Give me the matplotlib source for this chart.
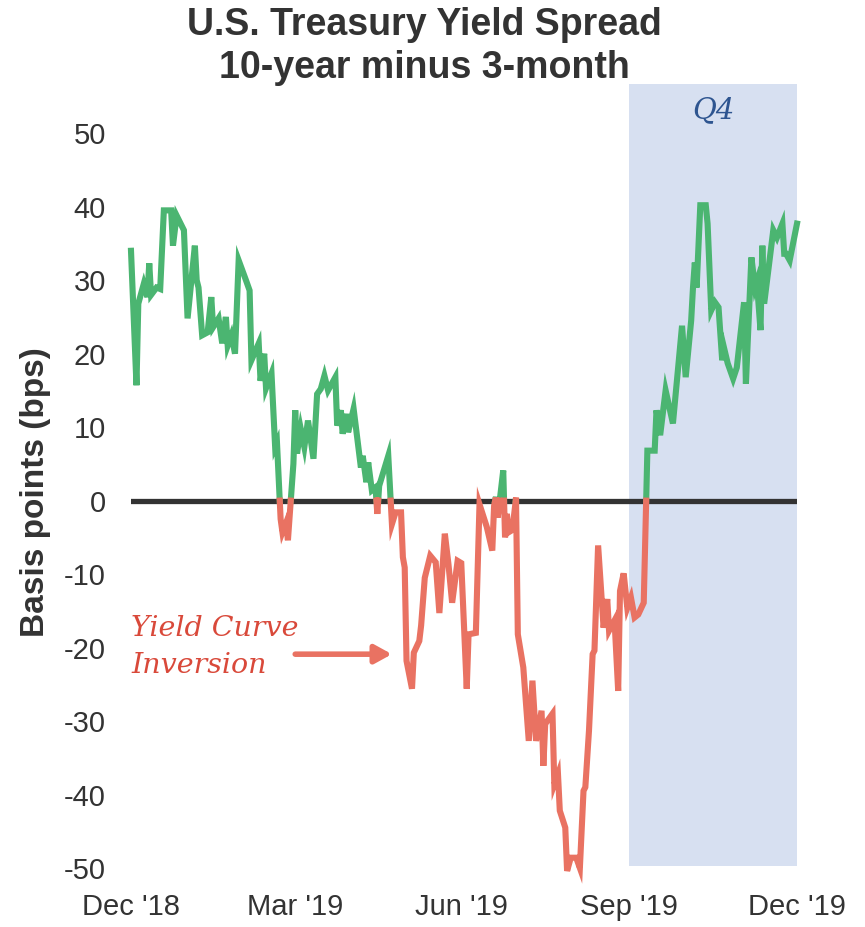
import numpy as np
import pandas as pd
import matplotlib
matplotlib.use("Agg")
import matplotlib.pyplot as plt
import matplotlib.dates as mdates

# 10-year minus 3-month Treasury spread, basis points
dates = [
    "2018-12-31", "2019-01-03", "2019-01-04", "2019-01-07", "2019-01-09", "2019-01-10",
    "2019-01-11", "2019-01-14", "2019-01-16", "2019-01-18", "2019-01-22", "2019-01-23",
    "2019-01-25", "2019-01-29", "2019-01-31", "2019-02-04", "2019-02-05", "2019-02-06",
    "2019-02-08", "2019-02-11", "2019-02-13", "2019-02-14", "2019-02-17", "2019-02-19",
    "2019-02-21", "2019-02-22", "2019-02-24", "2019-02-26", "2019-02-28", "2019-03-04",
    "2019-03-06", "2019-03-07", "2019-03-11", "2019-03-12", "2019-03-14", "2019-03-15",
    "2019-03-18", "2019-03-20", "2019-03-21", "2019-03-23", "2019-03-24", "2019-03-26",
    "2019-03-27", "2019-03-30", "2019-03-31", "2019-04-01", "2019-04-03", "2019-04-05",
    "2019-04-07", "2019-04-10", "2019-04-12", "2019-04-14", "2019-04-16", "2019-04-18",
    "2019-04-20", "2019-04-22", "2019-04-23", "2019-04-25", "2019-04-26", "2019-04-28",
    "2019-04-29", "2019-05-02", "2019-05-06", "2019-05-07", "2019-05-09", "2019-05-10",
    "2019-05-12", "2019-05-14", "2019-05-15", "2019-05-16", "2019-05-21", "2019-05-23",
    "2019-05-25", "2019-05-28", "2019-05-29", "2019-05-30", "2019-05-31", "2019-06-03",
    "2019-06-04", "2019-06-07", "2019-06-08", "2019-06-10", "2019-06-13", "2019-06-16",
    "2019-06-18", "2019-06-21", "2019-06-23", "2019-06-25", "2019-06-28", "2019-06-30",
    "2019-07-03", "2019-07-04", "2019-07-08", "2019-07-10", "2019-07-14", "2019-07-17",
    "2019-07-18", "2019-07-19", "2019-07-20", "2019-07-23", "2019-07-24", "2019-07-25",
    "2019-07-26", "2019-07-28", "2019-07-30", "2019-07-31", "2019-08-03", "2019-08-06",
    "2019-08-08", "2019-08-10", "2019-08-13", "2019-08-14", "2019-08-15", "2019-08-19",
    "2019-08-20", "2019-08-22", "2019-08-23", "2019-08-26", "2019-08-27", "2019-08-29",
    "2019-09-01", "2019-09-03", "2019-09-05", "2019-09-06", "2019-09-08", "2019-09-10",
    "2019-09-11", "2019-09-13", "2019-09-16", "2019-09-18", "2019-09-19", "2019-09-22",
    "2019-09-24", "2019-09-25", "2019-09-27", "2019-09-29", "2019-10-01", "2019-10-03",
    "2019-10-05", "2019-10-08", "2019-10-10", "2019-10-14", "2019-10-15", "2019-10-17",
    "2019-10-20", "2019-10-24", "2019-10-29", "2019-10-31", "2019-11-03", "2019-11-04",
    "2019-11-05", "2019-11-06", "2019-11-08", "2019-11-11", "2019-11-12", "2019-11-14",
    "2019-11-16", "2019-11-18", "2019-11-20", "2019-11-21", "2019-11-23", "2019-11-26",
    "2019-11-28", "2019-12-02", "2019-12-03", "2019-12-06", "2019-12-08", "2019-12-09",
    "2019-12-11", "2019-12-12", "2019-12-13", "2019-12-18", "2019-12-20", "2019-12-23",
    "2019-12-24", "2019-12-25", "2019-12-27", "2019-12-31",
]
spread = [
    34.0, 15.7, 26.8, 29.5, 27.7, 32.3,
    28.0, 29.0, 28.8, 39.5, 39.5, 34.7,
    38.8, 36.8, 24.8, 34.7, 30.0, 29.0,
    22.5, 22.9, 27.7, 23.6, 24.8, 21.4,
    25.0, 21.1, 22.5, 20.0, 32.7, 30.0,
    28.6, 19.1, 21.4, 16.3, 20.0, 15.3,
    17.3, 7.3, 7.9, -2.5, -4.3, -3.0,
    -5.4, 5.0, 12.3, 6.4, 9.8, 7.3,
    10.9, 5.7, 14.5, 15.2, 17.0, 15.0,
    15.9, 16.8, 10.2, 12.3, 9.1, 11.8,
    9.3, 12.5, 4.5, 6.1, 2.5, 5.2,
    1.4, 1.8, -1.8, 2.0, 6.1, -3.2,
    -1.6, -1.6, -7.7, -9.1, -21.8, -25.6,
    -20.7, -19.1, -17.0, -10.5, -7.5, -8.4,
    -15.3, -4.5, -8.7, -13.9, -8.2, -8.5,
    -25.6, -18.2, -18.0, -0.5, -3.6, -6.8,
    -0.7, 0.5, -2.3, 4.1, -5.0, -1.8,
    -4.3, -4.0, 0.3, -18.2, -22.7, -32.7,
    -24.5, -32.7, -28.6, -36.1, -30.4, -29.0,
    -38.6, -37.2, -42.2, -44.5, -50.4, -48.6,
    -48.6, -50.0, -39.5, -39.0, -31.3, -20.9,
    -20.4, -6.1, -17.3, -13.4, -17.7, -16.3,
    -25.9, -12.3, -9.9, -14.6, -13.2, -15.9,
    -15.5, -13.9, 6.8, 6.8, 12.3, 8.9,
    15.0, 10.5, 23.8, 16.8, 24.5, 29.0,
    32.4, 29.0, 40.2, 40.2, 37.7, 25.9,
    27.0, 26.3, 19.1, 20.8, 18.7, 16.6,
    18.1, 27.0, 15.9, 33.1, 29.0, 29.8,
    23.2, 34.7, 26.8, 36.8, 35.8, 37.7,
    33.6, 33.6, 32.7, 37.7,
]

tick_dates = ["2018-12-31", "2019-03-31", "2019-06-30", "2019-09-30", "2019-12-31"]
tick_labels = ["Dec '18", "Mar '19", "Jun '19", "Sep '19", "Dec '19"]
y_ticks = [50, 40, 30, 20, 10, 0, -10, -20, -30, -40, -50]
q4_span = ("2019-09-30", "2019-12-31")

GREEN = "#4BB571"
RED = "#E97262"
SHADE = "#D7E0F1"
TEXT = "#333333"

x = mdates.date2num(pd.to_datetime(dates))
y = np.asarray(spread, dtype=float)

# insert zero-crossing points so the two colours meet at the axis
xs, ys = [x[0]], [y[0]]
for i in range(1, len(x)):
    if y[i - 1] * y[i] < 0:
        t = y[i - 1] / (y[i - 1] - y[i])
        xs.append(x[i - 1] + t * (x[i] - x[i - 1]))
        ys.append(0.0)
    xs.append(x[i])
    ys.append(y[i])
xs = np.array(xs)
ys = np.array(ys)
pos = np.ma.masked_where(ys < 0, ys)
neg = np.ma.masked_where(ys > 0, ys)

plt.rcParams["font.family"] = ["Liberation Sans", "DejaVu Sans"]
fig = plt.figure(figsize=(8.65, 9.27), dpi=100)
ax = fig.add_axes([131 / 865, 1 - 868 / 927, (797 - 131) / 865, (868 - 84) / 927])

q0, q1 = mdates.date2num(pd.to_datetime(list(q4_span)))
ax.axvspan(q0, q1, ymin=0.003, ymax=1.0, color=SHADE, lw=0, zorder=0)

ax.axhline(0, color=TEXT, lw=3.8, zorder=2)
ax.plot(xs, pos, color=GREEN, lw=4.4, solid_joinstyle="miter", zorder=3, clip_on=False)
ax.plot(xs, neg, color=RED, lw=4.4, solid_joinstyle="miter", zorder=3, clip_on=False)

ax.set_xlim(x[0], x[-1])
ax.set_ylim(-50, 56.7)
ax.set_yticks(y_ticks)
ax.set_yticklabels([str(v) for v in y_ticks])
ax.set_xticks(mdates.date2num(pd.to_datetime(tick_dates)))
ax.set_xticklabels(tick_labels)
ax.tick_params(axis="both", length=0, labelsize=21, labelcolor=TEXT)
ax.tick_params(axis="y", pad=18)
ax.tick_params(axis="x", pad=18)
for s in ax.spines.values():
    s.set_visible(False)
ax.set_ylabel("Basis points (bps)", fontsize=24, fontweight="bold", color=TEXT)
ax.yaxis.set_label_coords(-0.12, 0.48)

fig.text(424 / 865, 1 - 25 / 927, "U.S. Treasury Yield Spread", ha="center", va="center",
         fontsize=27, fontweight="bold", color=TEXT)
fig.text(424 / 865, 1 - 68 / 927, "10-year minus 3-month", ha="center", va="center",
         fontsize=27, fontweight="bold", color=TEXT)

ax.text(0.5 * (q0 + q1), 53.2, "Q4", ha="center", va="center", fontsize=21,
        style="italic", family="DejaVu Serif", color="#2E5590")

ax.text(x[0], -19.9, "Yield Curve\nInversion", ha="left", va="center", fontsize=20.5,
        style="italic", family="DejaVu Serif", color="#D9493A", linespacing=1.45)
arrow_start = mdates.date2num(pd.Timestamp("2019-03-31"))
arrow_end = mdates.date2num(pd.Timestamp("2019-05-23"))
ax.annotate("", xy=(arrow_end, -20.9), xytext=(arrow_start, -20.9),
            arrowprops=dict(arrowstyle="-|>,head_length=1.0,head_width=0.55",
                            color=RED, lw=4, shrinkA=0, shrinkB=0))

fig.savefig("out.png", dpi=100)
